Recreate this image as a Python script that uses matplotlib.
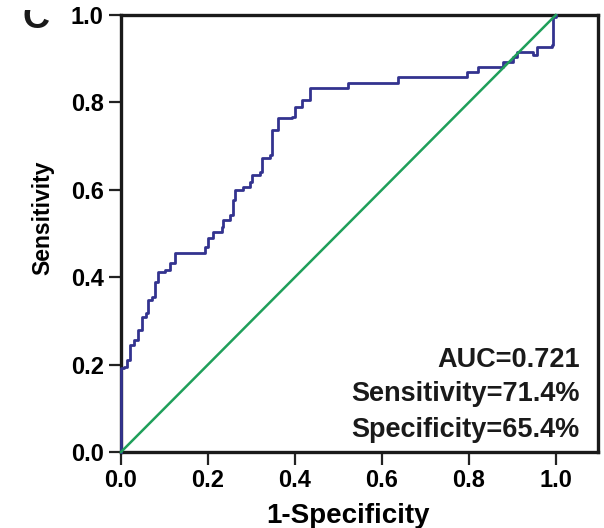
import matplotlib
matplotlib.use('Agg')
import matplotlib.pyplot as plt
from matplotlib.transforms import Bbox, TransformedBbox

plt.rcParams['font.family'] = ['Liberation Sans', 'DejaVu Sans']
plt.rcParams['font.weight'] = 'bold'

# ROC curve vertices (1-specificity, sensitivity)
fpr = [0.0, 0.0, 0.007, 0.014, 0.021, 0.030, 0.039, 0.048, 0.057, 0.062,
       0.071, 0.078, 0.085, 0.101, 0.113, 0.124, 0.170, 0.193, 0.200, 0.211,
       0.232, 0.234, 0.251, 0.257, 0.262, 0.280, 0.297, 0.301, 0.320, 0.324,
       0.343, 0.347, 0.361, 0.393, 0.400, 0.416, 0.434, 0.434, 0.520, 0.522,
       0.614, 0.637, 0.791, 0.795, 0.821, 0.871, 0.878, 0.901, 0.910, 0.947,
       0.956, 0.991, 0.993, 1.0]
tpr = [0.0, 0.192, 0.195, 0.211, 0.245, 0.256, 0.279, 0.309, 0.318, 0.348,
       0.355, 0.389, 0.412, 0.416, 0.432, 0.455, 0.455, 0.469, 0.490, 0.503,
       0.515, 0.531, 0.542, 0.577, 0.600, 0.606, 0.618, 0.634, 0.641, 0.673,
       0.680, 0.737, 0.764, 0.767, 0.789, 0.805, 0.810, 0.833, 0.833, 0.844,
       0.844, 0.858, 0.858, 0.870, 0.881, 0.881, 0.892, 0.904, 0.915, 0.908,
       0.927, 0.931, 0.995, 1.0]
ref_line = [0.0, 1.0]
ticks = [0.0, 0.2, 0.4, 0.6, 0.8, 1.0]
tick_labels = ['0.0', '0.2', '0.4', '0.6', '0.8', '1.0']
stats = ['AUC=0.721', 'Sensitivity=71.4%', 'Specificity=65.4%']

W, H = 604, 528
fig = plt.figure(figsize=(W / 100, H / 100), dpi=100)
ax = fig.add_axes([121 / W, 1 - 452 / H, 477 / W, 437 / H])

ax.plot(fpr, tpr, drawstyle='steps-post', color='#33338f', lw=2.0,
        zorder=3, clip_on=False)
ax.plot(ref_line, ref_line, color='#1f9f5a', lw=1.8, zorder=4, clip_on=False)

ax.set_xlim(0, 1.097)
ax.set_ylim(0, 1.0)
ax.set_xticks(ticks)
ax.set_xticklabels(tick_labels)
ax.set_yticks(ticks)
ax.set_yticklabels(tick_labels)
ax.tick_params(direction='out', length=9, width=1.6, pad=3.5,
               labelsize=17, color='#222222')
for s in ax.spines.values():
    s.set_linewidth(2.4)
    s.set_color('#1a1a1a')

ax.set_xlabel('1-Specificity', fontsize=20, fontweight='bold')
ax.xaxis.set_label_coords(0.476, -0.116)
ax.set_ylabel('Sensitivity', fontsize=16.5, fontweight='bold')
ax.yaxis.set_label_coords(-0.14, 0.535)

ys = [0.195, 0.116, 0.034]
for txt, y in zip(stats, ys):
    ax.text(0.962, y, txt, transform=ax.transAxes, ha='right', va='baseline',
            fontsize=19.5, fontweight='bold', color='#1a1a1a')

# panel letter, cut off at the top like in the source figure
c = fig.text(23 / W, 1 - 28 / H, 'C', fontsize=27, fontweight='bold',
             ha='left', va='baseline', color='#1a1a1a')
c.set_clip_box(TransformedBbox(Bbox([[0, 0], [0.2, 1 - 10 / H]]), fig.transFigure))
c.set_clip_on(True)

fig.savefig('out.png', dpi=100)
